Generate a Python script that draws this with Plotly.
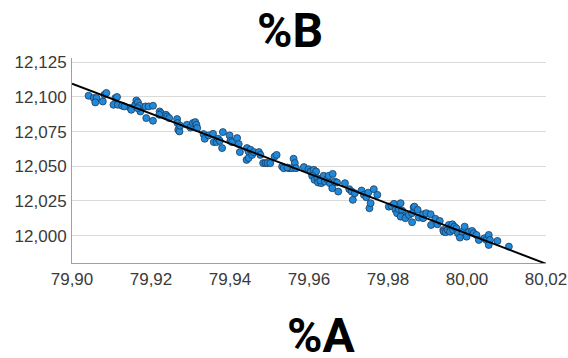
import numpy as np
import plotly.graph_objects as go

# %A (x) and %B (y) measurements
pct_a = [
    79.9042, 79.9055, 79.9062, 79.9059, 79.9078, 79.9082, 79.9087, 79.9105, 79.9110, 79.9114,
    79.9116, 79.9127, 79.9133, 79.9148, 79.9150, 79.9160, 79.9163, 79.9167, 79.9171, 79.9173,
    79.9166, 79.9188, 79.9186, 79.9194, 79.9205, 79.9205, 79.9222, 79.9225, 79.9221, 79.9238,
    79.9241, 79.9246, 79.9266, 79.9267, 79.9269, 79.9272, 79.9274, 79.9291,
    79.9300, 79.9306, 79.9312, 79.9315, 79.9317, 79.9333, 79.9336, 79.9346, 79.9357, 79.9359,
    79.9366, 79.9370, 79.9374, 79.9380, 79.9382, 79.9399, 79.9401, 79.9405, 79.9418, 79.9422,
    79.9425, 79.9443, 79.9447, 79.9452, 79.9442, 79.9447, 79.9456, 79.9460, 79.9473, 79.9477,
    79.9484, 79.9490, 79.9495, 79.9502, 79.9513, 79.9518, 79.9532, 79.9536, 79.9549, 79.9561,
    79.9564, 79.9557, 79.9545,
    79.9567, 79.9587, 79.9599, 79.9604, 79.9612, 79.9618, 79.9608, 79.9614, 79.9621, 79.9623,
    79.9631, 79.9629, 79.9637, 79.9640, 79.9646, 79.9650, 79.9653, 79.9660, 79.9659, 79.9665,
    79.9671, 79.9674, 79.9691, 79.9702, 79.9708, 79.9711, 79.9716, 79.9733, 79.9739, 79.9745,
    79.9750, 79.9753, 79.9756, 79.9764, 79.9773, 79.9802, 79.9809, 79.9815, 79.9819, 79.9823,
    79.9827, 79.9832, 79.9836, 79.9837, 79.9832, 79.9844, 79.9853, 79.9865,
    79.9861, 79.9861, 79.9867, 79.9875, 79.9878, 79.9889, 79.9889, 79.9897, 79.9908, 79.9909,
    79.9925, 79.9920, 79.9931, 79.9940, 79.9941, 79.9946, 79.9951, 79.9954, 79.9958, 79.9963,
    79.9957, 79.9965, 79.9968, 79.9973, 79.9977, 79.9982, 79.9988, 79.9994, 79.9999, 80.0005,
    80.0013, 80.0017, 80.0024, 80.0030, 80.0044, 80.0049, 80.0055, 80.0058, 80.0055, 80.0077,
    80.0106,
]
pct_b = [
    12.1008, 12.0992, 12.0992, 12.0960, 12.0967, 12.1015, 12.1028, 12.0943, 12.0992, 12.0999,
    12.0943, 12.0936, 12.0931, 12.0919, 12.0907, 12.0943, 12.0974, 12.0960, 12.0936, 12.0895,
    12.0919, 12.0847, 12.0931, 12.0931, 12.0936, 12.0828, 12.0895, 12.0883, 12.0871, 12.0871,
    12.0859, 12.0847, 12.0840, 12.0811, 12.0763, 12.0751, 12.0792, 12.0799,
    12.0779, 12.0811, 12.0818, 12.0799, 12.0775, 12.0732, 12.0698, 12.0722, 12.0734, 12.0674,
    12.0674, 12.0698, 12.0683, 12.0631, 12.0746, 12.0722, 12.0683, 12.0674, 12.0703, 12.0660,
    12.0602, 12.0631, 12.0606, 12.0619, 12.0546, 12.0559, 12.0582, 12.0602, 12.0602, 12.0582,
    12.0523, 12.0523, 12.0523, 12.0523, 12.0570, 12.0582, 12.0498, 12.0486, 12.0486, 12.0554,
    12.0523, 12.0486, 12.0491,
    12.0486, 12.0494, 12.0479, 12.0462, 12.0474, 12.0462, 12.0431, 12.0402, 12.0414, 12.0383,
    12.0378, 12.0397, 12.0431, 12.0390, 12.0407, 12.0431, 12.0378, 12.0445, 12.0342, 12.0390,
    12.0383, 12.0318, 12.0378, 12.0335, 12.0318, 12.0258, 12.0306, 12.0325, 12.0294, 12.0277,
    12.0310, 12.0198, 12.0234, 12.0335, 12.0294, 12.0209, 12.0214, 12.0229, 12.0186, 12.0162,
    12.0191, 12.0234, 12.0180, 12.0142, 12.0137, 12.0126, 12.0149, 12.0205,
    12.0162, 12.0097, 12.0209, 12.0186, 12.0130, 12.0126, 12.0154, 12.0162, 12.0154, 12.0077,
    12.0082, 12.0121, 12.0106, 12.0041, 12.0029, 12.0025, 12.0041, 12.0077, 12.0058, 12.0082,
    12.0029, 12.0041, 12.0065, 12.0053, 12.0017, 11.9986, 12.0029, 12.0065, 11.9993, 12.0029,
    12.0034, 12.0017, 12.0005, 11.9969, 11.9981, 11.9969, 12.0005, 11.9969, 11.9933, 11.9962,
    11.9921,
]

x_ticks = [79.90, 79.92, 79.94, 79.96, 79.98, 80.00, 80.02]
y_ticks = [12.000, 12.025, 12.050, 12.075, 12.100, 12.125]

x_range = [79.90, 80.02]
y_range = [11.9803, 12.1280]

# least-squares trend line across the full x range
slope, intercept = np.polyfit(pct_a, pct_b, 1)
fit_x = np.array(x_range)
fit_y = slope * fit_x + intercept

tick_font = dict(family="Liberation Sans, Arial, sans-serif", size=17, color="#3a3a3a")
title_font = dict(family="Roboto, Liberation Sans, Arial, sans-serif",
                  size=48, color="#000000")

fig = go.Figure()
fig.add_trace(go.Scatter(
    x=pct_a, y=pct_b, mode="markers",
    marker=dict(size=7, color="#2189d9", line=dict(color="#1d3b5c", width=0.8)),
    showlegend=False, hoverinfo="skip",
))
fig.add_trace(go.Scatter(
    x=fit_x, y=fit_y, mode="lines",
    line=dict(color="#000000", width=2),
    showlegend=False, hoverinfo="skip",
))

fig.update_layout(
    width=568, height=358,
    margin=dict(l=72, r=22, t=58, b=95),
    paper_bgcolor="#ffffff", plot_bgcolor="#ffffff",
    separators=", ",
    xaxis=dict(
        range=x_range, tickvals=x_ticks, tickformat=".2f",
        showgrid=False, zeroline=False, automargin=False,
        showline=True, linecolor="#a0a0a0", linewidth=1,
        ticks="", tickfont=tick_font, ticklabelstandoff=1,
    ),
    yaxis=dict(
        range=y_range, tickvals=y_ticks, tickformat=".3f",
        showgrid=True, gridcolor="#d9d9d9", gridwidth=1, zeroline=False,
        automargin=False,
        showline=True, linecolor="#a0a0a0", linewidth=1,
        ticks="", tickfont=tick_font, ticklabelstandoff=1,
    ),
    annotations=[
        dict(text="<b>%B</b>", xref="paper", yref="paper", x=0.46, y=1.135,
             xanchor="center", yanchor="middle", showarrow=False, font=title_font),
        dict(text="<b>%A</b>", xref="paper", yref="paper", x=0.525, y=-0.355,
             xanchor="center", yanchor="middle", showarrow=False, font=title_font),
    ],
)

fig.write_html("out.html")
